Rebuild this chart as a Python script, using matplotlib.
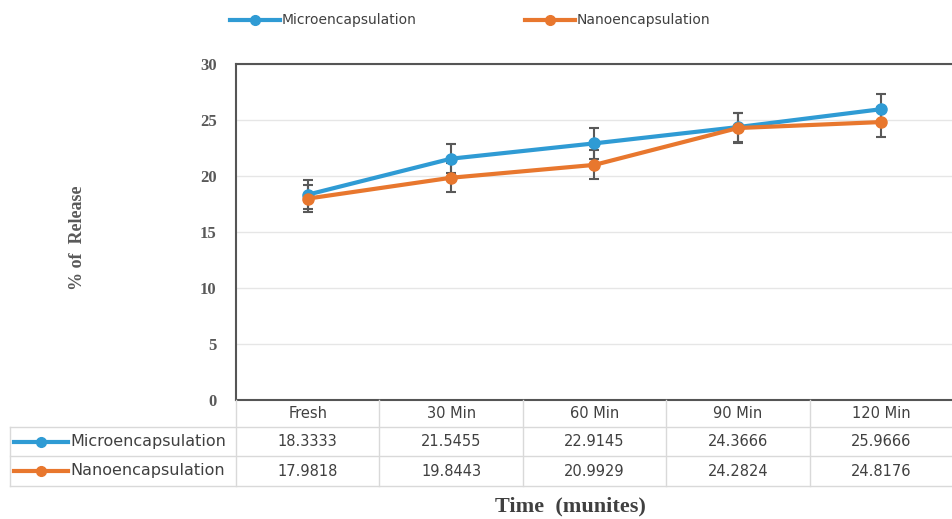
import numpy as np
import matplotlib.pyplot as plt
from matplotlib.lines import Line2D

times = ["Fresh", "30 Min", "60 Min", "90 Min", "120 Min"]
micro = [18.3333, 21.5455, 22.9145, 24.3666, 25.9666]
nano = [17.9818, 19.8443, 20.9929, 24.2824, 24.8176]
micro_err = [1.3, 1.3, 1.4, 1.3, 1.35]
nano_err = [1.2, 1.3, 1.3, 1.3, 1.3]
series_names = ["Microencapsulation", "Nanoencapsulation"]

BLUE = "#2f9bd4"
ORANGE = "#e8772e"
GREY = "#595959"
SANS = ["Liberation Sans Narrow", "DejaVu Sans"]
SERIF = ["Liberation Serif", "DejaVu Serif"]
FS = 10

W, H = 953, 519
fig = plt.figure(figsize=(W / 100, H / 100), dpi=100)

def fx(px):
  return px / W

def fy(py):
  return 1 - py / H

L, R, T, B = 236, 953, 64, 400
ax = fig.add_axes([fx(L), fy(B), fx(R) - fx(L), fy(T) - fy(B)])

x = np.arange(len(times))
for vals, errs, col in ((micro, micro_err, BLUE), (nano, nano_err, ORANGE)):
  ax.errorbar(x, vals, yerr=errs, fmt="none", ecolor=GREY, elinewidth=1.5,
              capsize=3.8, capthick=1.5, zorder=2)
  ax.plot(x, vals, color=col, lw=3, marker="o", ms=8, zorder=3)

ax.set_xlim(-0.5, len(times) - 0.5)
ax.set_ylim(0, 30)
ax.set_yticks(range(0, 31, 5))
ax.set_yticklabels([str(v) for v in range(0, 31, 5)],
                   fontdict=dict(family=SERIF, weight="bold", size=12, color=GREY))
ax.set_xticks([])
ax.tick_params(axis="y", length=0, pad=14)
ax.grid(axis="y", color="#e6e6e6", lw=1)
ax.set_axisbelow(True)
for s in ax.spines.values():
  s.set_color("#555555")
  s.set_linewidth(1.5)
ax.spines["right"].set_visible(False)

# data table under the axes
col_w = (R - L) / len(times)
tab_left = 10
line_kw = dict(color="#d9d9d9", lw=1, transform=fig.transFigure)
for yy in (427, 456, 486):
  fig.add_artist(Line2D([fx(tab_left), fx(R)], [fy(yy), fy(yy)], **line_kw))
fig.add_artist(Line2D([fx(tab_left), fx(tab_left)], [fy(427), fy(486)], **line_kw))
for k in range(len(times)):
  xx = L + k * col_w
  fig.add_artist(Line2D([fx(xx), fx(xx)], [fy(B), fy(486)], **line_kw))

txt_kw = dict(family=SANS, fontsize=10.5, color="#404040", ha="center", va="center")
for k, t in enumerate(times):
  cx = L + (k + 0.5) * col_w
  fig.text(fx(cx), fy(413), t, **txt_kw)
  fig.text(fx(cx), fy(441.5), f"{micro[k]:.4f}", **txt_kw)
  fig.text(fx(cx), fy(471), f"{nano[k]:.4f}", **txt_kw)

def key(px, py, col, length=52):
  fig.add_artist(Line2D([fx(px), fx(px + length)], [fy(py), fy(py)], color=col, lw=3,
                        transform=fig.transFigure))
  fig.add_artist(Line2D([fx(px + length / 2)], [fy(py)], color=col, marker="o", ms=7,
                        transform=fig.transFigure))

for name, col, yy in ((series_names[0], BLUE, 441.5), (series_names[1], ORANGE, 471)):
  key(14, yy, col, 54)
  fig.text(fx(70), fy(yy), name, family=SANS, fontsize=11.5, color="#404040",
           ha="left", va="center")

# legend on top
key(230, 20, BLUE, 50)
fig.text(fx(282), fy(20), series_names[0], family=SANS, fontsize=FS, color="#404040",
         ha="left", va="center")
key(525, 20, ORANGE, 50)
fig.text(fx(577), fy(20), series_names[1], family=SANS, fontsize=FS, color="#404040",
         ha="left", va="center")

fig.text(fx(77), fy(238), "% of  Release", rotation=90, family=SERIF, fontweight="bold",
         fontsize=13, color=GREY, ha="center", va="center")
fig.text(fx(570), fy(506), "Time  (munites)", family=SERIF, fontweight="bold",
         fontsize=16, color="#404040", ha="center", va="center")

fig.savefig("out.png", dpi=100)
